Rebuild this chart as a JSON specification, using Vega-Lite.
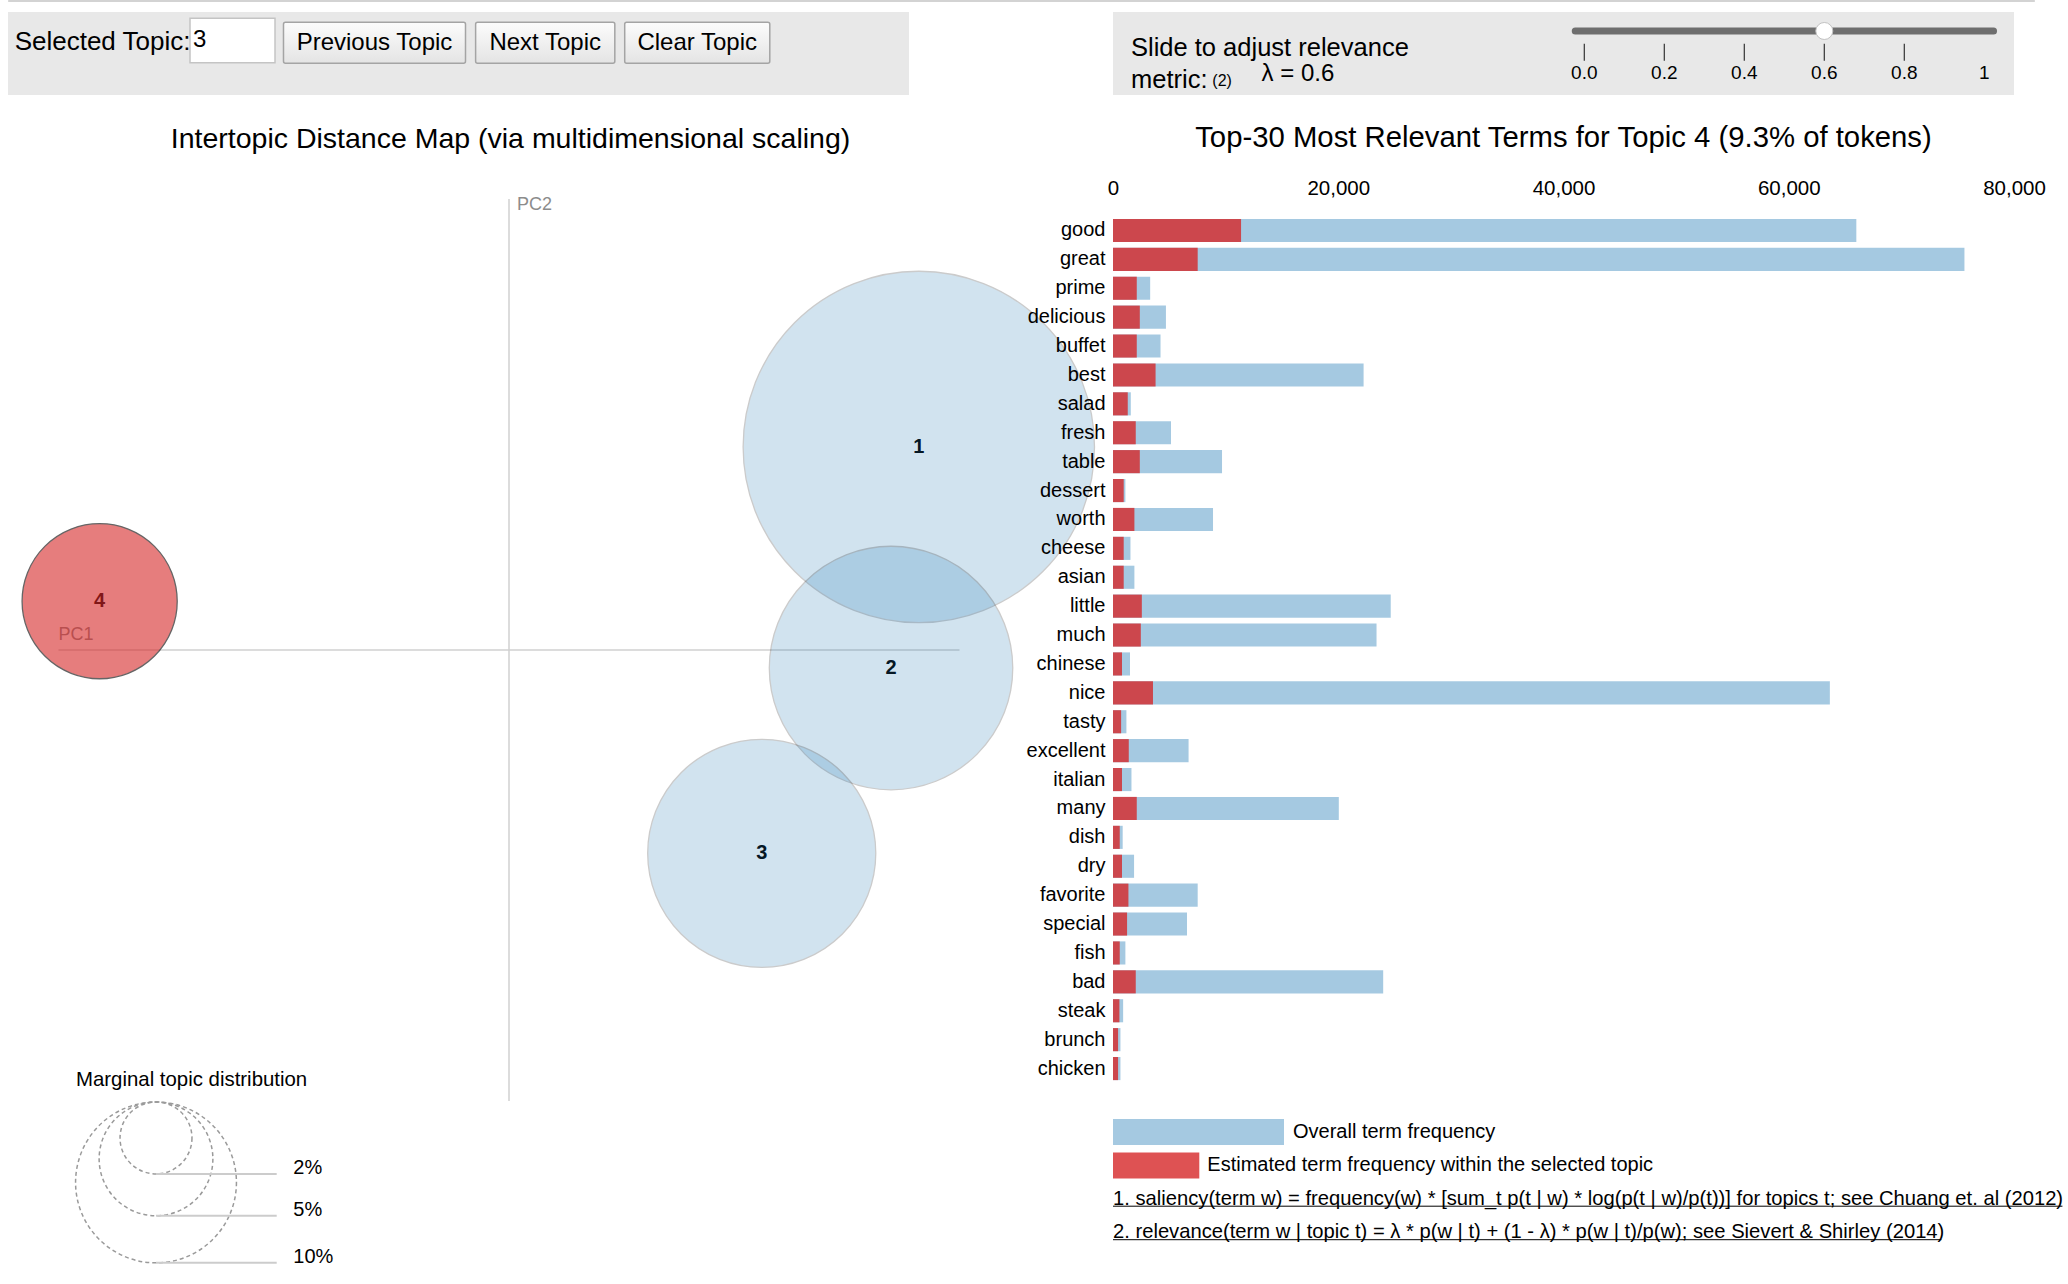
{
  "$schema": "https://vega.github.io/schema/vega-lite/v6.json",
  "background": "#ffffff",
  "padding": {"left": 8, "top": 0, "right": 0, "bottom": 0},
  "config": {
    "font": "Liberation Sans",
    "view": {"stroke": null},
    "axis": {"labelFont": "Liberation Sans", "labelColor": "#000000", "titleFont": "Liberation Sans"},
    "title": {"font": "Liberation Sans", "fontWeight": "normal", "color": "#000000"},
    "text": {"font": "Liberation Sans", "color": "#000000"}
  },
  "datasets": {
    "topics": [
      {"topic": 1, "PC1": 0.2729, "PC2": 0.1352, "pct": 47.7},
      {"topic": 2, "PC1": 0.2544, "PC2": -0.012, "pct": 22.9},
      {"topic": 3, "PC1": 0.1683, "PC2": -0.1354, "pct": 20.1},
      {"topic": 4, "PC1": -0.2726, "PC2": 0.0325, "pct": 9.3}
    ],
    "terms": [
      {"term": "good", "overall": 66000, "estimated": 11370},
      {"term": "great", "overall": 75600, "estimated": 7520},
      {"term": "prime", "overall": 3300, "estimated": 2110},
      {"term": "delicious", "overall": 4700, "estimated": 2380},
      {"term": "buffet", "overall": 4220, "estimated": 2110},
      {"term": "best", "overall": 22250, "estimated": 3780},
      {"term": "salad", "overall": 1580, "estimated": 1310},
      {"term": "fresh", "overall": 5150, "estimated": 2020},
      {"term": "table", "overall": 9680, "estimated": 2380},
      {"term": "dessert", "overall": 1100, "estimated": 950},
      {"term": "worth", "overall": 8880, "estimated": 1900},
      {"term": "cheese", "overall": 1550, "estimated": 950},
      {"term": "asian", "overall": 1900, "estimated": 950},
      {"term": "little", "overall": 24660, "estimated": 2560},
      {"term": "much", "overall": 23400, "estimated": 2470},
      {"term": "chinese", "overall": 1510, "estimated": 800},
      {"term": "nice", "overall": 63650, "estimated": 3550},
      {"term": "tasty", "overall": 1190, "estimated": 720},
      {"term": "excellent", "overall": 6710, "estimated": 1400},
      {"term": "italian", "overall": 1640, "estimated": 800},
      {"term": "many", "overall": 20050, "estimated": 2110},
      {"term": "dish", "overall": 860, "estimated": 600},
      {"term": "dry", "overall": 1870, "estimated": 800},
      {"term": "favorite", "overall": 7520, "estimated": 1370},
      {"term": "special", "overall": 6570, "estimated": 1250},
      {"term": "fish", "overall": 1100, "estimated": 600},
      {"term": "bad", "overall": 23990, "estimated": 2020},
      {"term": "steak", "overall": 900, "estimated": 570},
      {"term": "brunch", "overall": 660, "estimated": 450},
      {"term": "chicken", "overall": 660, "estimated": 450}
    ],
    "lambdaTicks": [
      {"lambda": 0, "label": "0.0"},
      {"lambda": 0.2, "label": "0.2"},
      {"lambda": 0.4, "label": "0.4"},
      {"lambda": 0.6, "label": "0.6"},
      {"lambda": 0.8, "label": "0.8"},
      {"lambda": 1, "label": "1"}
    ],
    "lambdaValue": [{"lambda": 0.6}],
    "captions": [
      {"caption": "Slide to adjust relevance"},
      {"caption": "metric:"},
      {"caption": "(2)"},
      {"caption": "λ = 0.6"}
    ],
    "pcAxes": [{"axis": "PC1"}, {"axis": "PC2"}],
    "margins": [
      {"pct": 2, "label": "2%"},
      {"pct": 5, "label": "5%"},
      {"pct": 10, "label": "10%"}
    ],
    "legendRows": [
      {"row": "overall", "label": "Overall term frequency"},
      {"row": "estimated", "label": "Estimated term frequency within the selected topic"},
      {"row": "fn1", "label": "1. saliency(term w) = frequency(w) * [sum_t p(t | w) * log(p(t | w)/p(t))] for topics t; see Chuang et. al (2012)"},
      {"row": "fn2", "label": "2. relevance(term w | topic t) = λ * p(w | t) + (1 - λ) * p(w | t)/p(w); see Sievert & Shirley (2014)"}
    ]
  },
  "spacing": 28,
  "vconcat": [
    {
      "spacing": 10,
      "vconcat": [
        {
          "width": 2027, "height": 2,
          "data": {"values": [{"line": "border"}]},
          "mark": {"type": "rect", "color": "#d3d3d3", "cornerRadius": 1},
          "encoding": {
            "y": {"field": "line", "type": "nominal", "axis": null, "scale": {"type": "band", "paddingInner": 0, "paddingOuter": 0}}
          }
        },
        {
          "hconcat": [
            {
              "width": 182, "height": 83,
              "view": {"fill": "#e8e8e8", "stroke": null},
              "data": {"values": [{"control": "Selected Topic:"}]},
              "mark": {"type": "text", "fontSize": 26, "baseline": "middle", "align": "center"},
              "encoding": {
                "text": {"field": "control"},
                "x": {"field": "control", "type": "nominal", "axis": null, "scale": {"type": "band", "paddingInner": 0, "paddingOuter": 0.1, "align": 0.617}},
                "y": {"field": "control", "type": "nominal", "axis": null, "scale": {"type": "point", "align": 0.3614}}
              }
            },
            {
              "width": 89, "height": 83,
              "view": {"fill": "#e8e8e8", "stroke": null},
              "data": {"values": [{"control": "3"}]},
              "encoding": {
                "x": {"field": "control", "type": "nominal", "axis": null, "scale": {"type": "band", "paddingInner": 0, "paddingOuter": 0.0235, "align": 0}},
                "y": {"field": "control", "type": "nominal", "axis": null, "scale": {"type": "band", "paddingInner": 0, "paddingOuter": 0.4347, "align": 0.163}}
              },
              "layer": [
                {"mark": {"type": "rect", "fill": "#ffffff", "stroke": "#c4c4c4", "strokeWidth": 1.5}},
                {
                  "mark": {"type": "text", "fontSize": 24, "align": "left", "baseline": "middle", "dx": 3},
                  "encoding": {
                    "text": {"field": "control"},
                    "x": {"field": "control", "type": "nominal", "bandPosition": 0, "axis": null}
                  }
                }
              ]
            },
            {
              "width": 191, "height": 83,
              "view": {"fill": "#e8e8e8", "stroke": null},
              "data": {"values": [{"control": "Previous Topic"}]},
              "encoding": {
                "x": {"field": "control", "type": "nominal", "axis": null, "scale": {"type": "band", "paddingInner": 0, "paddingOuter": 0.0247, "align": 0.5}},
                "y": {"field": "control", "type": "nominal", "axis": null, "scale": {"type": "band", "paddingInner": 0, "paddingOuter": 0.512, "align": 0.245}}
              },
              "layer": [
                {"mark": {"type": "rect", "stroke": "#a4a4a4", "strokeWidth": 1.5, "cornerRadius": 2, "fill": {"gradient": "linear", "x1": 0, "y1": 0, "x2": 0, "y2": 1, "stops": [{"offset": 0, "color": "#fcfcfc"}, {"offset": 1, "color": "#e4e4e4"}]}}},
                {"mark": {"type": "text", "fontSize": 24, "align": "center", "baseline": "middle"}, "encoding": {"text": {"field": "control"}}}
              ]
            },
            {
              "width": 150, "height": 83,
              "view": {"fill": "#e8e8e8", "stroke": null},
              "data": {"values": [{"control": "Next Topic"}]},
              "encoding": {
                "x": {"field": "control", "type": "nominal", "axis": null, "scale": {"type": "band", "paddingInner": 0, "paddingOuter": 0.0388, "align": 0.52}},
                "y": {"field": "control", "type": "nominal", "axis": null, "scale": {"type": "band", "paddingInner": 0, "paddingOuter": 0.512, "align": 0.245}}
              },
              "layer": [
                {"mark": {"type": "rect", "stroke": "#a4a4a4", "strokeWidth": 1.5, "cornerRadius": 2, "fill": {"gradient": "linear", "x1": 0, "y1": 0, "x2": 0, "y2": 1, "stops": [{"offset": 0, "color": "#fcfcfc"}, {"offset": 1, "color": "#e4e4e4"}]}}},
                {"mark": {"type": "text", "fontSize": 24, "align": "center", "baseline": "middle"}, "encoding": {"text": {"field": "control"}}}
              ]
            },
            {
              "width": 289, "height": 83,
              "view": {"fill": "#e8e8e8", "stroke": null},
              "data": {"values": [{"control": "Clear Topic"}]},
              "encoding": {
                "x": {"field": "control", "type": "nominal", "axis": null, "scale": {"type": "band", "paddingInner": 0, "paddingOuter": 0.4959, "align": 0.0327}},
                "y": {"field": "control", "type": "nominal", "axis": null, "scale": {"type": "band", "paddingInner": 0, "paddingOuter": 0.512, "align": 0.245}}
              },
              "layer": [
                {"mark": {"type": "rect", "stroke": "#a4a4a4", "strokeWidth": 1.5, "cornerRadius": 2, "fill": {"gradient": "linear", "x1": 0, "y1": 0, "x2": 0, "y2": 1, "stops": [{"offset": 0, "color": "#fcfcfc"}, {"offset": 1, "color": "#e4e4e4"}]}}},
                {"mark": {"type": "text", "fontSize": 24, "align": "center", "baseline": "middle"}, "encoding": {"text": {"field": "control"}}}
              ]
            },
            {
              "width": 204, "height": 83,
              "data": {"values": []},
              "mark": "point",
              "encoding": {}
            },
            {
              "width": 901, "height": 83,
              "view": {"fill": "#e8e8e8", "stroke": null},
              "layer": [
                {
                  "data": {"name": "lambdaValue"},
                  "mark": {"type": "rule", "strokeWidth": 7, "strokeCap": "round", "color": "#6e6e6e"},
                  "encoding": {
                    "x": {"datum": -0.0226, "type": "quantitative", "axis": null, "scale": {"domain": [-1.17825, 1.07425], "nice": false, "zero": false}},
                    "x2": {"datum": 1.0231},
                    "y": {"datum": "track", "type": "nominal", "axis": null, "scale": {"type": "point", "domain": ["track", "ticks", "labels"], "padding": 0.962, "align": 0.4668}}
                  }
                },
                {
                  "data": {"name": "lambdaTicks"},
                  "transform": [{"filter": "datum.lambda < 1"}],
                  "mark": {"type": "tick", "orient": "vertical", "size": 17, "thickness": 1.2, "color": "#333333", "opacity": 1},
                  "encoding": {
                    "x": {"field": "lambda", "type": "quantitative", "axis": null},
                    "y": {"datum": "ticks", "type": "nominal", "axis": null}
                  }
                },
                {
                  "data": {"name": "lambdaTicks"},
                  "mark": {"type": "text", "fontSize": 19, "align": "center", "baseline": "middle"},
                  "encoding": {
                    "text": {"field": "label"},
                    "x": {"field": "lambda", "type": "quantitative", "axis": null},
                    "y": {"datum": "labels", "type": "nominal", "axis": null}
                  }
                },
                {
                  "data": {"name": "lambdaValue"},
                  "mark": {"type": "circle", "size": 289, "fill": "#ffffff", "stroke": "#c2c2c2", "strokeWidth": 1, "opacity": 1},
                  "encoding": {
                    "x": {"field": "lambda", "type": "quantitative", "axis": null},
                    "y": {"datum": "track", "type": "nominal", "axis": null}
                  }
                },
                {
                  "data": {"name": "captions"},
                  "transform": [{"filter": "datum.caption === 'Slide to adjust relevance'"}],
                  "mark": {"type": "text", "fontSize": 25.5, "align": "left", "baseline": "middle", "dy": -4},
                  "encoding": {
                    "text": {"field": "caption"},
                    "x": {"datum": -1.1333, "type": "quantitative", "axis": null},
                    "y": {"datum": "ticks", "type": "nominal", "axis": null}
                  }
                },
                {
                  "data": {"name": "captions"},
                  "transform": [{"filter": "datum.caption === 'metric:'"}],
                  "mark": {"type": "text", "fontSize": 25.5, "align": "left", "baseline": "middle", "dy": 7},
                  "encoding": {
                    "text": {"field": "caption"},
                    "x": {"datum": -1.1333, "type": "quantitative", "axis": null},
                    "y": {"datum": "labels", "type": "nominal", "axis": null}
                  }
                },
                {
                  "data": {"name": "captions"},
                  "transform": [{"filter": "datum.caption === '(2)'"}],
                  "mark": {"type": "text", "fontSize": 16, "align": "left", "baseline": "middle", "dy": 8},
                  "encoding": {
                    "text": {"field": "caption"},
                    "x": {"datum": -0.93, "type": "quantitative", "axis": null},
                    "y": {"datum": "labels", "type": "nominal", "axis": null}
                  }
                },
                {
                  "data": {"name": "captions"},
                  "transform": [{"filter": "datum.caption === 'λ = 0.6'"}],
                  "mark": {"type": "text", "fontSize": 24, "align": "left", "baseline": "middle", "dy": 1},
                  "encoding": {
                    "text": {"field": "caption"},
                    "x": {"datum": -0.8068, "type": "quantitative", "axis": null},
                    "y": {"datum": "labels", "type": "nominal", "axis": null}
                  }
                }
              ]
            }
          ],
          "spacing": 0,
          "bounds": "flush"
        }
      ]
    },
    {
      "spacing": -35,
      "vconcat": [
        {
          "hconcat": [
            {
              "width": 952, "height": 885,
              "title": {"text": "Intertopic Distance Map (via multidimensional scaling)", "fontSize": 28.5, "anchor": "middle", "dx": 26.5, "offset": 43},
              "layer": [
                {
                  "data": {"name": "pcAxes"},
                  "transform": [{"filter": "datum.axis === 'PC1'"}],
                  "mark": {"type": "rule", "color": "#d0d0d0", "strokeWidth": 1.5},
                  "encoding": {
                    "x": {"datum": -0.3, "type": "quantitative", "axis": null, "scale": {"domain": [-0.33363, 0.30033], "nice": false, "zero": false}},
                    "x2": {"datum": 0.3},
                    "y": {"datum": 0, "type": "quantitative", "axis": null, "scale": {"domain": [-0.30033, 0.28901], "nice": false, "zero": false}}
                  }
                },
                {
                  "data": {"name": "pcAxes"},
                  "transform": [{"filter": "datum.axis === 'PC2'"}],
                  "mark": {"type": "rule", "color": "#d0d0d0", "strokeWidth": 1.5},
                  "encoding": {
                    "x": {"datum": 0, "type": "quantitative", "axis": null},
                    "y": {"datum": -0.30033, "type": "quantitative", "axis": null},
                    "y2": {"datum": 0.30033}
                  }
                },
                {
                  "data": {"name": "pcAxes"},
                  "transform": [{"filter": "datum.axis === 'PC1'"}],
                  "mark": {"type": "text", "fontSize": 18, "align": "left", "baseline": "middle", "dy": -15, "color": "#8c8c8c"},
                  "encoding": {
                    "text": {"field": "axis"},
                    "x": {"datum": -0.3, "type": "quantitative", "axis": null},
                    "y": {"datum": 0, "type": "quantitative", "axis": null}
                  }
                },
                {
                  "data": {"name": "pcAxes"},
                  "transform": [{"filter": "datum.axis === 'PC2'"}],
                  "mark": {"type": "text", "fontSize": 18, "align": "left", "baseline": "middle", "dx": 8, "dy": 6, "color": "#8c8c8c"},
                  "encoding": {
                    "text": {"field": "axis"},
                    "x": {"datum": 0, "type": "quantitative", "axis": null},
                    "y": {"datum": 0.30033, "type": "quantitative", "axis": null}
                  }
                },
                {
                  "data": {"name": "topics"},
                  "mark": {"type": "text", "fontSize": 20, "fontWeight": "bold", "align": "center", "baseline": "middle"},
                  "encoding": {
                    "text": {"field": "topic", "type": "nominal"},
                    "x": {"field": "PC1", "type": "quantitative", "axis": null},
                    "y": {"field": "PC2", "type": "quantitative", "axis": null}
                  }
                },
                {
                  "data": {"name": "topics"},
                  "mark": {"type": "circle", "stroke": "#000000", "strokeWidth": 1.3},
                  "encoding": {
                    "x": {"field": "PC1", "type": "quantitative", "axis": null},
                    "y": {"field": "PC2", "type": "quantitative", "axis": null},
                    "size": {"field": "pct", "type": "quantitative", "legend": null, "scale": {"type": "linear", "domain": [0, 100], "range": [0, 258800], "zero": true}},
                    "fill": {"condition": {"test": "datum.topic === 4", "value": "#d62728"}, "value": "#1f77b4"},
                    "opacity": {"condition": {"test": "datum.topic === 4", "value": 0.6}, "value": 0.2}
                  }
                }
              ]
            },
            {
              "width": 901, "height": 867,
              "title": {"text": "Top-30 Most Relevant Terms for Topic 4 (9.3% of tokens)", "fontSize": 29.3, "anchor": "middle", "offset": 25},
              "data": {"name": "terms"},
              "transform": [{"fold": ["overall", "estimated"], "as": ["series", "freq"]}],
              "mark": {"type": "bar"},
              "encoding": {
                "y": {"field": "term", "type": "nominal", "sort": null, "scale": {"paddingInner": 0.2, "paddingOuter": 0.1},
                      "axis": {"title": null, "ticks": false, "domain": false, "labelFontSize": 20, "labelPadding": 8, "labelColor": "#000000"}},
                "x": {"field": "freq", "type": "quantitative", "stack": null, "scale": {"domain": [0, 80000], "nice": false},
                      "axis": {"orient": "top", "title": null, "values": [0, 20000, 40000, 60000, 80000], "format": ",.0f", "labelFlush": false, "labelOverlap": false, "ticks": false, "domain": false, "grid": false, "labelFontSize": 20.5, "labelPadding": 28, "labelBaseline": "middle", "labelColor": "#000000"}},
                "color": {"field": "series", "type": "nominal", "legend": null, "scale": {"domain": ["overall", "estimated"], "range": ["#1f77b4", "#d62728"]}},
                "opacity": {"field": "series", "type": "nominal", "legend": null, "scale": {"domain": ["overall", "estimated"], "range": [0.4, 0.8]}}
              }
            }
          ],
          "spacing": 153,
          "bounds": "flush"
        },
        {
          "hconcat": [
            {
              "width": 952, "height": 161,
              "title": {"text": "Marginal topic distribution", "fontSize": 20.4, "anchor": "start", "dx": 68, "offset": 9},
              "data": {"name": "margins"},
              "resolve": {"scale": {"y": "independent"}},
              "layer": [
                {
                  "mark": {"type": "point", "shape": "circle", "filled": false, "stroke": "#9a9a9a", "strokeWidth": 1.5, "strokeDash": [4, 3], "opacity": 1},
                  "encoding": {
                    "x": {"datum": -0.23507, "type": "quantitative", "axis": null, "scale": {"domain": [-0.33363, 0.30033], "nice": false, "zero": false}},
                    "y": {"field": "pct", "type": "quantitative", "axis": null, "scale": {"type": "sqrt", "domain": [0, 40.07], "reverse": true, "nice": false, "zero": true}},
                    "size": {"field": "pct", "type": "quantitative", "legend": null, "scale": {"type": "linear", "domain": [0, 100], "range": [0, 258800], "zero": true}}
                  }
                },
                {
                  "mark": {"type": "rule", "color": "#cccccc", "strokeWidth": 2},
                  "encoding": {
                    "x": {"datum": -0.23507, "type": "quantitative", "axis": null},
                    "x2": {"datum": -0.15469},
                    "y": {"field": "pct", "type": "quantitative", "axis": null, "scale": {"type": "sqrt", "domain": [0, 10.0175], "reverse": true, "nice": false, "zero": true}}
                  }
                },
                {
                  "mark": {"type": "text", "fontSize": 20, "align": "left", "baseline": "alphabetic"},
                  "encoding": {
                    "text": {"field": "label"},
                    "x": {"datum": -0.14364, "type": "quantitative", "axis": null},
                    "y": {"field": "pct", "type": "quantitative", "axis": null, "scale": {"type": "sqrt", "domain": [0, 10.0175], "reverse": true, "nice": false, "zero": true}}
                  }
                }
              ]
            },
            {
              "width": 901, "height": 150,
              "data": {"name": "legendRows"},
              "encoding": {
                "y": {"field": "row", "type": "nominal", "sort": null, "axis": null, "scale": {"type": "band", "domain": ["overall", "estimated", "fn1", "fn2"], "paddingInner": 0.227, "paddingOuter": 0.352, "align": 0.72}}
              },
              "layer": [
                {
                  "transform": [{"filter": "datum.row === 'overall'"}],
                  "mark": {"type": "rect", "color": "#1f77b4", "opacity": 0.4},
                  "encoding": {
                    "x": {"datum": 0, "type": "quantitative", "axis": null, "scale": {"domain": [0, 80000], "nice": false, "zero": true}},
                    "x2": {"datum": 15183}
                  }
                },
                {
                  "transform": [{"filter": "datum.row === 'estimated'"}],
                  "mark": {"type": "rect", "color": "#d62728", "opacity": 0.8},
                  "encoding": {
                    "x": {"datum": 0, "type": "quantitative", "axis": null},
                    "x2": {"datum": 7663}
                  }
                },
                {
                  "transform": [{"filter": "datum.row === 'overall'"}],
                  "mark": {"type": "text", "fontSize": 20, "align": "left", "baseline": "middle", "dx": 9},
                  "encoding": {
                    "text": {"field": "label"},
                    "x": {"datum": 15183, "type": "quantitative", "axis": null}
                  }
                },
                {
                  "transform": [{"filter": "datum.row === 'estimated'"}],
                  "mark": {"type": "text", "fontSize": 20, "align": "left", "baseline": "middle", "dx": 8},
                  "encoding": {
                    "text": {"field": "label"},
                    "x": {"datum": 7663, "type": "quantitative", "axis": null}
                  }
                },
                {
                  "transform": [{"filter": "datum.row === 'fn1' || datum.row === 'fn2'"}],
                  "mark": {"type": "text", "fontSize": 20.2, "align": "left", "baseline": "middle"},
                  "encoding": {
                    "text": {"field": "label"},
                    "x": {"datum": 0, "type": "quantitative", "axis": null}
                  }
                },
                {
                  "transform": [{"filter": "datum.row === 'fn1'"}],
                  "mark": {"type": "rule", "color": "#000000", "strokeWidth": 1},
                  "encoding": {
                    "x": {"datum": 0, "type": "quantitative", "axis": null},
                    "x2": {"datum": 84300},
                    "y": {"field": "row", "type": "nominal", "bandPosition": 0.78, "axis": null}
                  }
                },
                {
                  "transform": [{"filter": "datum.row === 'fn2'"}],
                  "mark": {"type": "rule", "color": "#000000", "strokeWidth": 1},
                  "encoding": {
                    "x": {"datum": 0, "type": "quantitative", "axis": null},
                    "x2": {"datum": 73550},
                    "y": {"field": "row", "type": "nominal", "bandPosition": 0.78, "axis": null}
                  }
                }
              ]
            }
          ],
          "spacing": 153,
          "bounds": "flush"
        }
      ]
    }
  ]
}
